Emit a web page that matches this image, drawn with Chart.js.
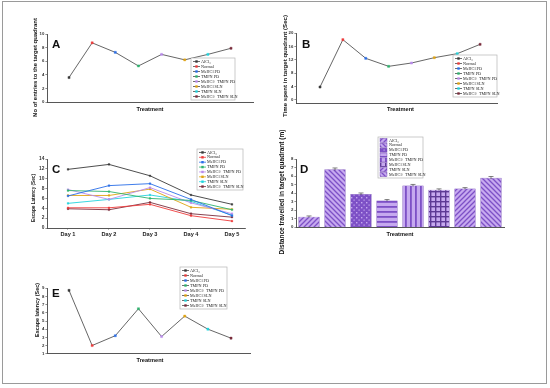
<!DOCTYPE html>
<html><head><meta charset="utf-8">
<script src="https://cdn.jsdelivr.net/npm/chart.js@4.4.1/dist/chart.umd.min.js"></script>
<style>
html,body{margin:0;padding:0;background:#fff;}
#wrap{position:relative;width:550px;height:388px;overflow:hidden;background:#fff;}
#frame{position:absolute;left:2px;top:1px;width:545px;height:383px;border:1.5px solid #9a9a9a;box-sizing:border-box;}
canvas{position:absolute;}
</style></head><body>
<div id="wrap">
<div id="frame"></div>
<canvas id="cA" style="left:0px;top:0px" width="275" height="126"></canvas>
<canvas id="cB" style="left:275px;top:0px" width="270" height="126"></canvas>
<canvas id="cC" style="left:0px;top:126px" width="275" height="128"></canvas>
<canvas id="cD" style="left:275px;top:126px" width="270" height="134"></canvas>
<canvas id="cE" style="left:0px;top:254px" width="275" height="128"></canvas>
</div>
<script>
// ---------- data ----------
const groups = ['AlCl\u2083','Normal','MeHCl PD','TMPN PD','MeHCl+ TMPN PD','MeHCl SLN','TMPN SLN','MeHCl+ TMPN SLN'];
const entriesA = [3.6, 8.7, 7.3, 5.3, 7.0, 6.2, 7.0, 7.9];
const timeB = [3.8, 18.0, 12.4, 10.0, 11.0, 12.6, 13.8, 16.6];
const days = ['Day 1','Day 2','Day 3','Day 4','Day 5'];
const cAlCl3 = [11.9, 12.9, 10.6, 6.7, 4.8];
const cNormal = [4.1, 4.1, 4.8, 2.5, 1.4];
const cMeHClPD = [6.5, 8.6, 9.0, 5.8, 2.5];
const cTMPNPD = [7.6, 7.4, 6.0, 5.6, 3.7];
const cComboPD = [7.8, 5.8, 8.2, 5.1, 2.9];
const cMeHClSLN = [6.6, 6.6, 7.9, 4.2, 3.8];
const cTMPNSLN = [5.0, 5.8, 6.7, 5.4, 2.6];
const cComboSLN = [3.9, 3.7, 5.2, 2.9, 2.2];
const distD = [1.25, 6.8, 3.9, 3.15, 4.9, 4.4, 4.55, 5.8];
const distErrD = [0.08, 0.15, 0.12, 0.1, 0.12, 0.1, 0.1, 0.15];
const latencyE = [8.75, 2.0, 3.2, 6.5, 3.1, 5.6, 4.0, 2.9];
const yTicksA = [0,1,2,3,4,5,6,7,8,9,10];
const yTicksB = [0,2,4,6,8,10,12,14,16,18,20];
const yTicksC = [0,2,4,6,8,10,12,14];
const yTicksD = [0,1,2,3,4,5,6,7,8];
const yTicksE = [1,2,3,4,5,6,7,8,9];

// ---------- styles ----------
const groupColors = ['#3a3a3a','#ee3b3b','#2a6ee8','#2fb36e','#b98aec','#e0a312','#22d3dc','#7a2d3c'];
const cSeries = [cAlCl3,cNormal,cMeHClPD,cTMPNPD,cComboPD,cMeHClSLN,cTMPNSLN,cComboSLN];
const FONT = '"Liberation Sans", Arial, sans-serif';
Chart.defaults.font.family = FONT;
Chart.defaults.color = '#222';

function fitFont(ctx, text, len, bold) {
  ctx.font = (bold ? 'bold ' : '') + '10px ' + FONT;
  const w = ctx.measureText(text).width;
  const s = 10 * len / w;
  ctx.font = (bold ? 'bold ' : '') + s.toFixed(2) + 'px ' + FONT;
}

const annot = {
  id: 'annot',
  afterDraw(chart, args, o) {
    if (!o) return;
    const ctx = chart.ctx; ctx.save(); ctx.fillStyle = '#111';
    if (o.letter) {
      ctx.font = 'bold 11.5px ' + FONT; ctx.textAlign = 'left'; ctx.textBaseline = 'alphabetic';
      ctx.fillText(o.letter.text, o.letter.x, o.letter.y);
    }
    if (o.xtitle) {
      fitFont(ctx, o.xtitle.text, o.xtitle.len, true);
      ctx.textAlign = 'center'; ctx.textBaseline = 'middle';
      ctx.fillText(o.xtitle.text, o.xtitle.cx, o.xtitle.cy);
    }
    if (o.ytitle) {
      ctx.save();
      ctx.translate(o.ytitle.cx, o.ytitle.cy); ctx.rotate(-Math.PI / 2);
      fitFont(ctx, o.ytitle.text, o.ytitle.len, true);
      ctx.textAlign = 'center'; ctx.textBaseline = 'middle';
      ctx.fillText(o.ytitle.text, 0, 0);
      ctx.restore();
    }
    ctx.restore();
  }
};

const miniLegend = {
  id: 'miniLegend',
  afterDraw(chart, args, o) {
    if (!o || !o.box) return;
    const ctx = chart.ctx; const b = o.box;
    ctx.save();
    ctx.fillStyle = '#fff'; ctx.fillRect(b.x, b.y, b.w, b.h);
    ctx.strokeStyle = '#b5b5b5'; ctx.lineWidth = 0.7; ctx.strokeRect(b.x, b.y, b.w, b.h);
    const n = o.labels.length; const rh = (b.h - 2) / n;
    ctx.font = '4.2px "Liberation Serif", "DejaVu Serif", serif';
    ctx.textBaseline = 'middle'; ctx.textAlign = 'left';
    o.labels.forEach((lab, i) => {
      const cy = b.y + 1 + rh * (i + 0.5);
      if (o.kind === 'bar') {
        ctx.fillStyle = o.fills[i]; ctx.fillRect(b.x + 2, cy - rh * 0.42, 7, rh * 0.84);
        ctx.strokeStyle = '#6a3fae'; ctx.lineWidth = 0.4; ctx.strokeRect(b.x + 2, cy - rh * 0.42, 7, rh * 0.84);
        ctx.fillStyle = '#222'; ctx.fillText(lab, b.x + 11, cy);
      } else {
        ctx.strokeStyle = o.lineColors[i]; ctx.lineWidth = 0.8;
        ctx.beginPath(); ctx.moveTo(b.x + 2, cy); ctx.lineTo(b.x + 9, cy); ctx.stroke();
        ctx.fillStyle = o.markColors[i]; ctx.fillRect(b.x + 4.3, cy - 1.2, 2.4, 2.4);
        ctx.fillStyle = '#222'; ctx.fillText(lab, b.x + 10, cy);
      }
    });
    ctx.restore();
  }
};

const errBars = {
  id: 'errBars',
  afterDatasetsDraw(chart, args, o) {
    if (!o || !o.errors) return;
    const ctx = chart.ctx; const meta = chart.getDatasetMeta(0); const ys = chart.scales.y;
    const vals = chart.data.datasets[0].data;
    ctx.save(); ctx.strokeStyle = '#333'; ctx.lineWidth = 0.6;
    meta.data.forEach((el, i) => {
      const yt = ys.getPixelForValue(vals[i] + o.errors[i]);
      const yb = ys.getPixelForValue(vals[i] - o.errors[i]);
      ctx.beginPath();
      ctx.moveTo(el.x, yt); ctx.lineTo(el.x, yb);
      ctx.moveTo(el.x - 2.5, yt); ctx.lineTo(el.x + 2.5, yt);
      ctx.stroke();
    });
    ctx.restore();
  }
};
Chart.register(annot, miniLegend, errBars);

function yAxis(min, max, ticks, width, fontSize) {
  return {
    type: 'linear', min: min, max: max,
    afterBuildTicks: s => { s.ticks = ticks.map(v => ({ value: v })); },
    afterFit: s => { s.width = width; },
    grid: { display: true, drawOnChartArea: false, drawTicks: true, tickLength: 1.6, color: '#444', lineWidth: 0.6 },
    border: { display: true, color: '#444', width: 0.9 },
    ticks: { font: { size: fontSize, weight: 'bold' }, padding: 1, color: '#333' }
  };
}
function xAxisPlain(min, max, height) {
  return {
    type: 'linear', min: min, max: max,
    afterFit: s => { s.height = height; },
    grid: { display: false },
    border: { display: true, color: '#444', width: 0.9 },
    ticks: { display: false }
  };
}
function baseOptions(W, H, area, xh) {
  return {
    responsive: false, animation: false, devicePixelRatio: 1,
    layout: { padding: { left: 0, top: area.t, right: W - area.r, bottom: H - area.b - xh } },
    plugins: { legend: { display: false }, tooltip: { enabled: false } }
  };
}

function treatmentLine(canvasId, values, W, H, area, xmin, xmax, ymin, ymax, yticks, extras) {
  const opts = baseOptions(W, H, area, 12);
  opts.scales = { x: xAxisPlain(xmin, xmax, 12), y: yAxis(ymin, ymax, yticks, area.l, 4.3) };
  opts.plugins.annot = extras.annot;
  opts.plugins.miniLegend = { box: extras.box, labels: groups, kind: 'line',
    lineColors: groups.map(() => '#4a4a4a'), markColors: groupColors };
  new Chart(document.getElementById(canvasId), {
    type: 'line',
    data: { datasets: [{
      data: values.map((v, i) => ({ x: i + 1, y: v })),
      borderColor: '#555', borderWidth: 0.9, tension: 0,
      pointStyle: 'rect', pointRadius: 1.5, pointBorderWidth: 0.4,
      pointBackgroundColor: groupColors, pointBorderColor: groupColors
    }] },
    options: opts
  });
}

// ---------- A ----------
treatmentLine('cA', entriesA, 275, 126, { l: 47, t: 34, r: 253, b: 102 }, 0.049, 8.95, 0, 10, yTicksA, {
  annot: { letter: { text: 'A', x: 52, y: 48 },
           ytitle: { text: 'No of entries to the target quadrant', cx: 35, cy: 67.5, len: 99 },
           xtitle: { text: 'Treatment', cx: 150, cy: 109.3, len: 27 } },
  box: { x: 191, y: 58, w: 44, h: 42 }
});
// ---------- B ----------
treatmentLine('cB', timeB, 270, 126, { l: 21, t: 33, r: 222, b: 103 }, -0.05, 8.74, -1, 20, yTicksB, {
  annot: { letter: { text: 'B', x: 27, y: 48 },
           ytitle: { text: 'Time spent in target quadrant (Sec)', cx: 10.5, cy: 66, len: 102 },
           xtitle: { text: 'Treatment', cx: 125.5, cy: 109, len: 27 } },
  box: { x: 178, y: 55, w: 44, h: 42 }
});
// ---------- E ----------
treatmentLine('cE', latencyE, 275, 128, { l: 47, t: 34.3, r: 250, b: 99.7 }, 0.049, 8.82, 1, 9, yTicksE, {
  annot: { letter: { text: 'E', x: 52, y: 43 },
           ytitle: { text: 'Escape latency (Sec)', cx: 37, cy: 56, len: 54 },
           xtitle: { text: 'Treatment', cx: 150, cy: 106, len: 27 } },
  box: { x: 180, y: 13, w: 47, h: 42 }
});

// ---------- C ----------
(function () {
  const W = 275, H = 128, area = { l: 47, t: 33, r: 245, b: 102 }, xh = 16;
  const opts = baseOptions(W, H, area, xh);
  opts.scales = {
    x: { type: 'linear', min: 0.488, max: 5.317,
      afterBuildTicks: s => { s.ticks = days.map((d, i) => ({ value: i + 1 })); },
      afterFit: s => { s.height = xh; },
      grid: { display: true, drawOnChartArea: false, drawTicks: true, tickLength: 1.6, color: '#444', lineWidth: 0.6 },
      border: { display: true, color: '#444', width: 0.9 },
      ticks: { font: { size: 5.6, weight: 'bold' }, padding: 1.5, color: '#222', maxRotation: 0,
        callback: v => days[Math.round(v) - 1] }
    },
    y: yAxis(0, 14, yTicksC, area.l, 4.8)
  };
  opts.plugins.annot = { letter: { text: 'C', x: 52, y: 47 },
    ytitle: { text: 'Escape Latency (Sec)', cx: 34, cy: 72, len: 48 } };
  opts.plugins.miniLegend = { box: { x: 197, y: 23, w: 46, h: 41 }, labels: groups, kind: 'line',
    lineColors: groupColors, markColors: groupColors };
  new Chart(document.getElementById('cC'), {
    type: 'line',
    data: { datasets: cSeries.map((s, k) => ({
      data: s.map((v, i) => ({ x: i + 1, y: v })),
      borderColor: groupColors[k], backgroundColor: groupColors[k], borderWidth: 0.9, tension: 0,
      pointStyle: 'rect', pointRadius: 1.2, pointBorderWidth: 0.3
    })) },
    options: opts
  });
})();

// ---------- D ----------
(function () {
  function pat(kind) {
    const s = 5, c = document.createElement('canvas'); c.width = s; c.height = s;
    const g = c.getContext('2d');
    g.fillStyle = '#c6a9ef'; g.fillRect(0, 0, s, s);
    g.strokeStyle = '#7d50c6'; g.fillStyle = '#7d50c6'; g.lineWidth = 1.3;
    if (kind === 'fwd') { g.beginPath(); g.moveTo(-1, s + 1); g.lineTo(s + 1, -1); g.moveTo(-1, 1); g.lineTo(1, -1); g.moveTo(s - 1, s + 1); g.lineTo(s + 1, s - 1); g.stroke(); }
    else if (kind === 'back') { g.beginPath(); g.moveTo(-1, -1); g.lineTo(s + 1, s + 1); g.moveTo(s - 1, -1); g.lineTo(s + 1, 1); g.moveTo(-1, s - 1); g.lineTo(1, s + 1); g.stroke(); }
    else if (kind === 'check') { g.fillRect(0, 0, s, s); g.fillStyle = '#c6a9ef'; g.fillRect(1, 1, 1.4, 1.4); g.fillRect(3.5, 3.5, 1.2, 1.2); }
    else if (kind === 'horiz') { g.fillRect(0, 0, s, 1.8); }
    else if (kind === 'vert') { g.fillRect(0, 0, 1.8, s); }
    else if (kind === 'grid') { g.fillStyle = '#5d3a95'; g.fillRect(0, 0, s, 1.4); g.fillRect(0, 0, 1.4, s); }
    return g.createPattern(c, 'repeat');
  }
  const kinds = ['fwd', 'back', 'check', 'horiz', 'vert', 'grid', 'fwd', 'back'];
  const fills = kinds.map(pat);
  const W = 270, H = 134, area = { l: 21, t: 33, r: 229, b: 101.3 }, xh = 12;
  const opts = baseOptions(W, H, area, xh);
  opts.scales = {
    x: { type: 'category', offset: true, afterFit: s => { s.height = xh; },
      grid: { display: false }, border: { display: true, color: '#444', width: 0.9 }, ticks: { display: false } },
    y: yAxis(0, 8, yTicksD, area.l, 4.3)
  };
  opts.plugins.annot = { letter: { text: 'D', x: 25, y: 47 },
    ytitle: { text: 'Distance travelled in target quadrant (m)', cx: 7, cy: 66, len: 125 },
    xtitle: { text: 'Treatment', cx: 125, cy: 108, len: 27 } };
  opts.plugins.miniLegend = { box: { x: 103, y: 11, w: 45, h: 41 }, labels: groups, kind: 'bar', fills: fills };
  opts.plugins.errBars = { errors: distErrD };
  new Chart(document.getElementById('cD'), {
    type: 'bar',
    data: { labels: groups, datasets: [{ data: distD, backgroundColor: fills,
      borderColor: '#6a3fae', borderWidth: 0.6, categoryPercentage: 1, barPercentage: 0.82 }] },
    options: opts
  });
})();
</script>
</body></html>
